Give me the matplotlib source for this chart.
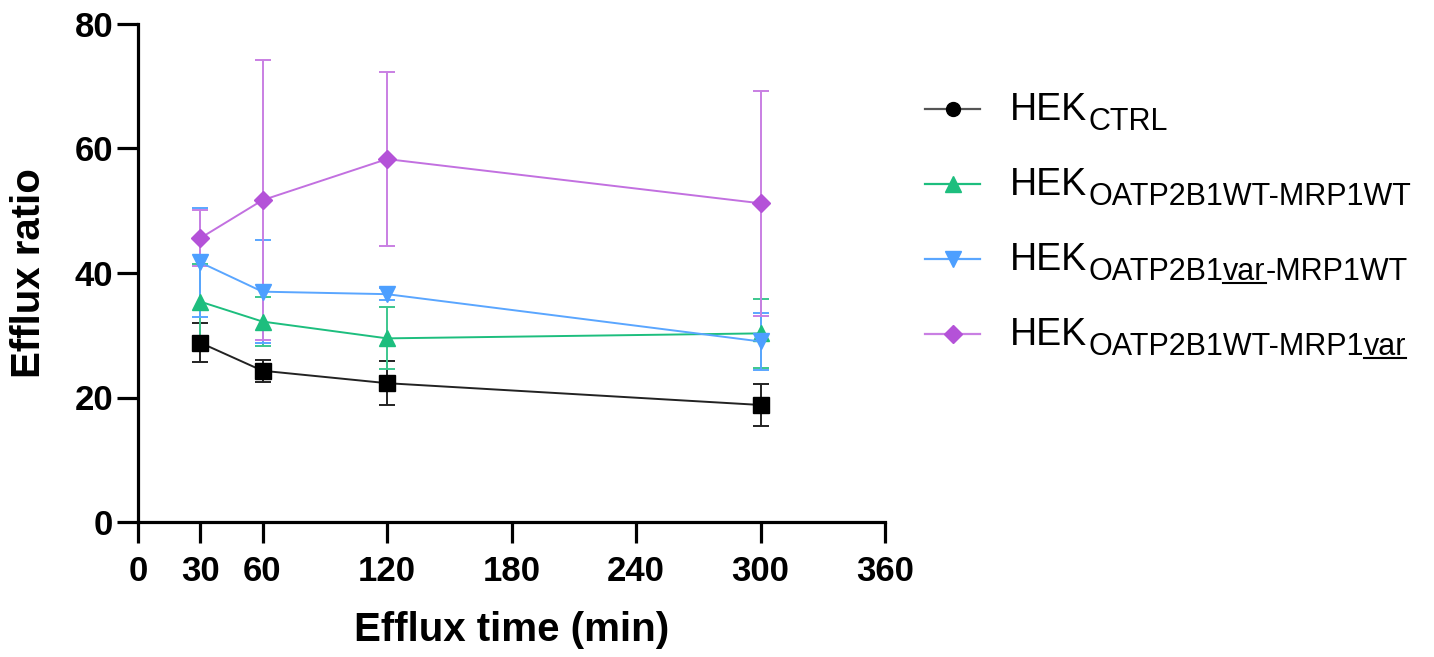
import matplotlib
matplotlib.use('Agg')
import matplotlib.pyplot as plt
from matplotlib.lines import Line2D

plt.rcParams['font.family'] = ['Liberation Sans', 'DejaVu Sans']

# ---------------- data ----------------
times = [30, 60, 120, 300]
ctrl_mean = [28.8, 24.3, 22.3, 18.8]
ctrl_sd = [3.1, 1.8, 3.5, 3.3]
wt_wt_mean = [35.4, 32.2, 29.5, 30.3]
wt_wt_sd = [6.0, 4.0, 5.0, 5.5]
var_wt_mean = [41.7, 37.0, 36.6, 29.0]
var_wt_sd = [8.7, 8.3, 1.0, 4.6]
wt_var_mean = [45.6, 51.7, 58.3, 51.2]
wt_var_sd = [4.5, 22.5, 14.0, 18.1]

x_ticks = [0, 30, 60, 120, 180, 240, 300, 360]
y_ticks = [0, 20, 40, 60, 80]
x_label = 'Efflux time (min)'
y_label = 'Efflux ratio'

legend_main = 'HEK'
legend_subs = [
    [('CTRL', False)],
    [('OATP2B1WT-MRP1WT', False)],
    [('OATP2B1', False), ('var', True), ('-MRP1WT', False)],
    [('OATP2B1WT-MRP1', False), ('var', True)],
]

# ---------------- styles ----------------
W, H = 1434, 657
series = [
    dict(m=ctrl_mean, sd=ctrl_sd, marker='s', mc='#000000', lc='#222222', ec='#222222', ms=12,
         lmarker='o', lms=10, llc='#555555'),
    dict(m=wt_wt_mean, sd=wt_wt_sd, marker='^', mc='#1DBE7E', lc='#1DBE7E', ec='#3CC78E', ms=12,
         lmarker='^', lms=11, llc='#1DBE7E'),
    dict(m=var_wt_mean, sd=var_wt_sd, marker='v', mc='#4D9FFF', lc='#5AA6FF', ec='#5AA6FF', ms=12,
         lmarker='v', lms=11, llc='#5AA6FF'),
    dict(m=wt_var_mean, sd=wt_var_sd, marker='D', mc='#B452D8', lc='#C270E0', ec='#C97FE3', ms=9,
         lmarker='D', lms=9, llc='#C97FE3'),
]

fig = plt.figure(figsize=(W / 100, H / 100), dpi=100)
ax = fig.add_axes([138 / W, 1 - 522 / H, (885 - 138) / W, (522 - 24) / H])

for s in series:
    ax.errorbar(times, s['m'], yerr=s['sd'], color=s['lc'], marker=s['marker'],
                mfc=s['mc'], mec=s['mc'], ms=s['ms'], lw=1.4, elinewidth=1.4,
                ecolor=s['ec'], capsize=5.5, capthick=1.4, clip_on=False)

ax.set_xlim(0, 360)
ax.set_ylim(0, 80)
ax.set_xticks(x_ticks)
ax.set_yticks(y_ticks)
for sp in ['top', 'right']:
    ax.spines[sp].set_visible(False)
for sp in ['left', 'bottom']:
    ax.spines[sp].set_linewidth(2.3)
ax.tick_params(length=15, width=2.3, labelsize=25, colors='black')
ax.tick_params(axis='y', pad=3)
ax.tick_params(axis='x', pad=9)
for lab in ax.get_xticklabels() + ax.get_yticklabels():
    lab.set_fontweight('bold')
ax.set_xlabel(x_label, fontsize=29, fontweight='bold', labelpad=16)
ax.set_ylabel(y_label, fontsize=29, fontweight='bold', labelpad=19)

# ---------------- manual legend ----------------
fig.canvas.draw()
renderer = fig.canvas.get_renderer()


def fx(px):
    return px / W


def fy(py):
    return 1 - py / H


for i, s in enumerate(series):
    base = 120 + 75 * i
    hy = base - 11
    fig.add_artist(Line2D([fx(925), fx(952.5), fx(980)], [fy(hy)] * 3,
                          transform=fig.transFigure, color=s['llc'], lw=1.6,
                          marker=s['lmarker'], markevery=[1], ms=s['lms'],
                          mfc=s['mc'], mec=s['mc']))
    t = fig.text(fx(1010), fy(base), legend_main, fontsize=27, va='baseline', ha='left')
    bb = t.get_window_extent(renderer)
    x = bb.x1 + 1
    sub_base = base + 10
    for seg, ul in legend_subs[i]:
        ts = fig.text(x / W, fy(sub_base), seg, fontsize=22, va='baseline', ha='left')
        sb = ts.get_window_extent(renderer)
        if ul:
            fig.add_artist(Line2D([sb.x0 / W, sb.x1 / W], [fy(sub_base + 3)] * 2,
                                  transform=fig.transFigure, color='black', lw=1.5))
        x = sb.x1

fig.savefig('out.png', dpi=100)
